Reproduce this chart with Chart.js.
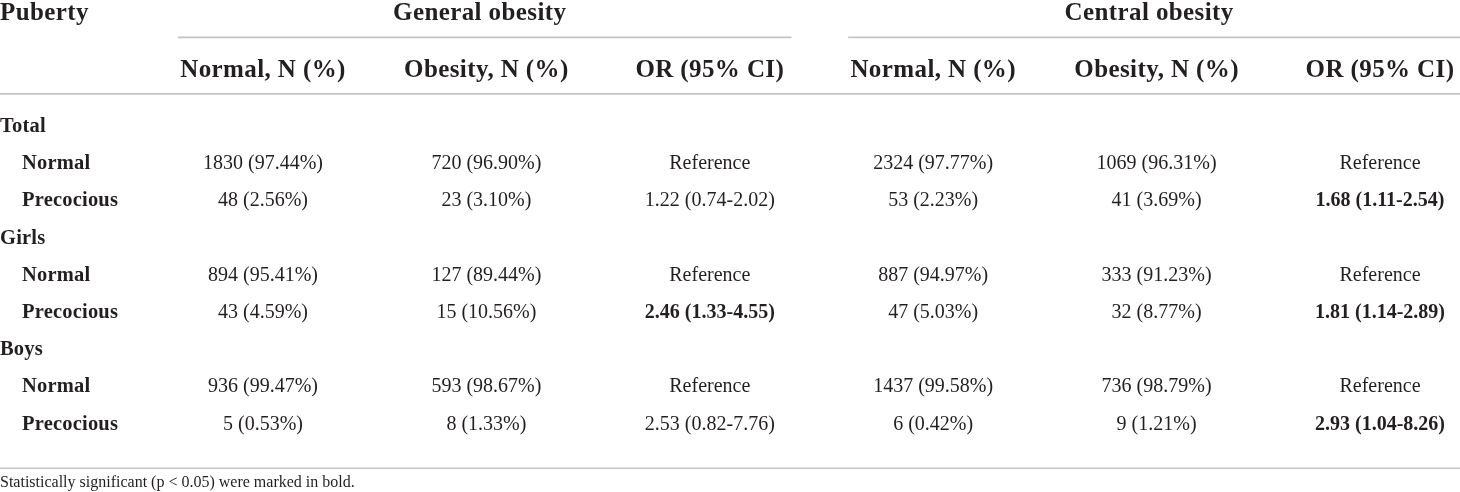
<!DOCTYPE html>
<html>
<head>
<meta charset="utf-8">
<script src="https://cdn.jsdelivr.net/npm/chart.js@4"></script>
<style>
  html, body { margin: 0; padding: 0; background: #fff; }
  #wrap { width: 1460px; height: 492px; position: relative; }
</style>
</head>
<body>
<div id="wrap"><canvas id="tbl"></canvas></div>
<script>
// --- Table data ---
const groups = ['General obesity', 'Central obesity'];
const columns = ['Normal, N (%)', 'Obesity, N (%)', 'OR (95% CI)', 'Normal, N (%)', 'Obesity, N (%)', 'OR (95% CI)'];
const sexes = ['Total', 'Girls', 'Boys'];
const puberty = ['Normal', 'Precocious'];

// rows: Total Normal, Total Precocious, Girls Normal, Girls Precocious, Boys Normal, Boys Precocious
const genNormalN = [1830, 48, 894, 43, 936, 5];
const genNormalPct = [97.44, 2.56, 95.41, 4.59, 99.47, 0.53];
const genObeseN = [720, 23, 127, 15, 593, 8];
const genObesePct = [96.90, 3.10, 89.44, 10.56, 98.67, 1.33];
const genOR = [1.22, 2.46, 2.53];
const genLow = [0.74, 1.33, 0.82];
const genHigh = [2.02, 4.55, 7.76];

const cenNormalN = [2324, 53, 887, 47, 1437, 6];
const cenNormalPct = [97.77, 2.23, 94.97, 5.03, 99.58, 0.42];
const cenObeseN = [1069, 41, 333, 32, 736, 9];
const cenObesePct = [96.31, 3.69, 91.23, 8.77, 98.79, 1.21];
const cenOR = [1.68, 1.81, 2.93];
const cenLow = [1.11, 1.14, 1.04];
const cenHigh = [2.54, 2.89, 8.26];

const footnote = 'Statistically significant (p < 0.05) were marked in bold.';

// --- Build row list from the arrays ---
const rowLabels = [];
const rowIndent = [];
const rowCells = [];

function np(n, p) { return n + ' (' + p.toFixed(2) + '%)'; }
function orText(o, lo, hi) { return o.toFixed(2) + ' (' + lo.toFixed(2) + '-' + hi.toFixed(2) + ')'; }

sexes.forEach((s, g) => {
  rowLabels.push(s);
  rowIndent.push(false);
  rowCells.push(null);
  puberty.forEach((p, k) => {
    const i = g * 2 + k;
    rowLabels.push(p);
    rowIndent.push(true);
    const cells = [
      { t: np(genNormalN[i], genNormalPct[i]) },
      { t: np(genObeseN[i], genObesePct[i]) },
      k === 0 ? { t: 'Reference' } : { t: orText(genOR[g], genLow[g], genHigh[g]), b: genLow[g] > 1 || genHigh[g] < 1 },
      { t: np(cenNormalN[i], cenNormalPct[i]) },
      { t: np(cenObeseN[i], cenObesePct[i]) },
      k === 0 ? { t: 'Reference' } : { t: orText(cenOR[g], cenLow[g], cenHigh[g]), b: cenLow[g] > 1 || cenHigh[g] < 1 },
    ];
    rowCells.push(cells);
  });
});

const INK = '#231f20';
const RULE = '#c4c4c4';
const FAMILY = "'Liberation Serif', 'Times New Roman', serif";

const tablePlugin = {
  id: 'tableDraw',
  afterDraw(chart) {
    const ctx = chart.ctx;
    const xs = chart.scales.x;
    const ys = chart.scales.y;
    const area = chart.chartArea;
    const W = chart.width;
    const colX = i => xs.getPixelForValue(i);
    const rowY = i => ys.getPixelForValue(i);

    ctx.save();
    ctx.fillStyle = INK;
    ctx.textBaseline = 'alphabetic';

    // header rules
    const halfGap = (colX(3) - colX(2)) / 2 - 30;
    const groupSpans = [
      [colX(0) - 85, colX(2) + halfGap],
      [colX(3) - 85, W]
    ];
    ctx.strokeStyle = RULE;
    ctx.lineWidth = 1.6;
    groupSpans.forEach(([a, b]) => {
      ctx.beginPath();
      ctx.moveTo(a, area.top - 69);
      ctx.lineTo(b, area.top - 69);
      ctx.stroke();
    });
    [area.top - 12.5, area.bottom + 27].forEach(yy => {
      ctx.beginPath();
      ctx.moveTo(0, yy);
      ctx.lineTo(W, yy);
      ctx.stroke();
    });

    // header text
    ctx.font = 'bold 25px ' + FAMILY;
    ctx.letterSpacing = '0.4px';
    ctx.textAlign = 'left';
    ctx.fillText('Puberty', 0, area.top - 86);
    ctx.textAlign = 'center';
    groups.forEach((g, i) => {
      const [a, b] = groupSpans[i];
      ctx.fillText(g, (a + b) / 2 - 5, area.top - 86);
    });
    columns.forEach((c, i) => {
      ctx.fillText(c, colX(i), area.top - 29);
    });

    // body
    rowLabels.forEach((lab, r) => {
      const base = rowY(r) + 7;
      ctx.font = 'bold 20.5px ' + FAMILY;
      ctx.letterSpacing = '0.2px';
      ctx.textAlign = 'left';
      ctx.fillText(lab, rowIndent[r] ? 22 : 0, base);
      ctx.letterSpacing = '0px';
      const cells = rowCells[r];
      if (!cells) return;
      ctx.textAlign = 'center';
      cells.forEach((c, i) => {
        ctx.font = (c.b ? 'bold ' : '') + '20px ' + FAMILY;
        ctx.fillText(c.t, colX(i), base);
      });
    });

    // footnote
    ctx.font = '16px ' + FAMILY;
    ctx.textAlign = 'left';
    ctx.fillText(footnote, 0, area.bottom + 46);
    ctx.restore();
  }
};

new Chart(document.getElementById('tbl'), {
  type: 'line',
  data: { labels: columns, datasets: [] },
  options: {
    responsive: true,
    maintainAspectRatio: false,
    animation: false,
    events: [],
    layout: { padding: { left: 263, right: 80, top: 106.4, bottom: 50.8 } },
    plugins: { legend: { display: false }, tooltip: { enabled: false } },
    scales: {
      x: { type: 'category', labels: columns, offset: false, display: false },
      y: { type: 'category', labels: rowLabels, offset: true, display: false }
    }
  },
  plugins: [tablePlugin]
});
</script>
</body>
</html>
